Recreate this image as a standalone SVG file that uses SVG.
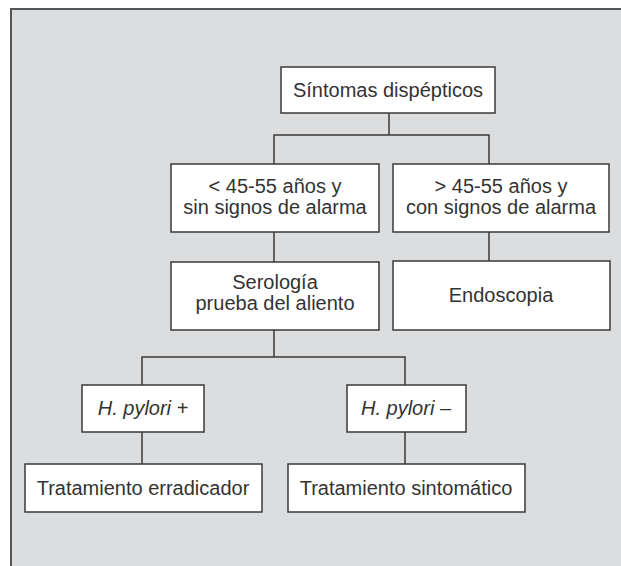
<svg xmlns="http://www.w3.org/2000/svg" width="621" height="566" viewBox="0 0 621 566">
<style>
.frame{fill:#dcdddf;stroke:#555658;stroke-width:2}
.box{fill:#ffffff;stroke:#3a3a3a;stroke-width:1.5}
.conn{fill:none;stroke:#3a3a3a;stroke-width:1.5}
text{font-family:"Liberation Sans",Arial,sans-serif;font-size:20px;fill:#333333;text-anchor:middle}
.it{font-style:italic}
</style>
<rect class="frame" x="11" y="9" width="640" height="600"/>
<g id="connectors">
<path class="conn" d="M389,113V135M274,164V135H489V164"/>
<path class="conn" d="M274,232V262M489,232V261"/>
<path class="conn" d="M274,330V357M142,385V357H405V385"/>
<path class="conn" d="M142,432V464M405,432V464"/>
</g>
<g id="sintomas">
<rect class="box" x="281" y="67" width="214" height="46"/>
<text x="388" y="97">Síntomas dispépticos</text>
</g>
<g id="menor45">
<rect class="box" x="171" y="164" width="208" height="68"/>
<text x="275" y="193">&lt; 45-55 años y</text>
<text x="275" y="214">sin signos de alarma</text>
</g>
<g id="mayor45">
<rect class="box" x="393" y="164" width="216" height="68"/>
<text x="501" y="193">&gt; 45-55 años y</text>
<text x="501" y="214">con signos de alarma</text>
</g>
<g id="serologia">
<rect class="box" x="171" y="262" width="208" height="68"/>
<text x="275" y="289">Serología</text>
<text x="275" y="310">prueba del aliento</text>
</g>
<g id="endoscopia">
<rect class="box" x="393" y="261" width="217" height="69"/>
<text x="501" y="302">Endoscopia</text>
</g>
<g id="hpylori-pos">
<rect class="box" x="82" y="385" width="122" height="47"/>
<text class="it" x="143" y="415">H. pylori +</text>
</g>
<g id="hpylori-neg">
<rect class="box" x="347" y="385" width="119" height="47"/>
<text class="it" x="406" y="415">H. pylori –</text>
</g>
<g id="erradicador">
<rect class="box" x="25" y="464" width="237" height="48"/>
<text x="143" y="495">Tratamiento erradicador</text>
</g>
<g id="sintomatico">
<rect class="box" x="288" y="464" width="237" height="48"/>
<text x="406" y="495">Tratamiento sintomático</text>
</g>
</svg>
